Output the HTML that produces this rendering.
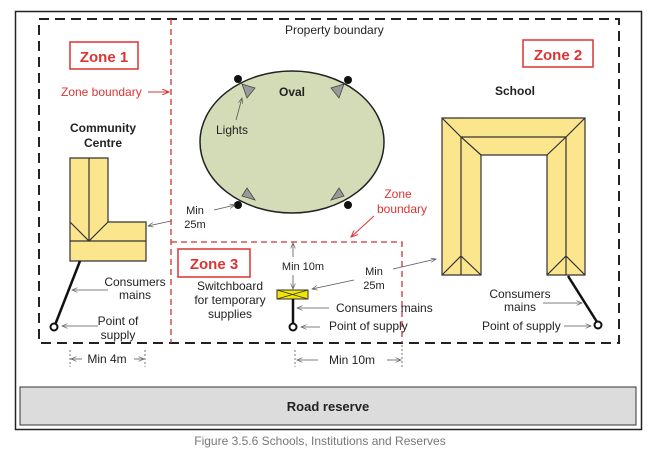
<!DOCTYPE html>
<html><head><style>body{margin:0;background:#fff}svg{display:block}text{font-family:"Liberation Sans",sans-serif}</style></head><body>
<svg width="669" height="460" viewBox="0 0 669 460" xmlns="http://www.w3.org/2000/svg">
<defs>
<marker id="a" markerWidth="8" markerHeight="6" refX="7" refY="3" orient="auto"><path d="M0,0 L7,3 L0,6" fill="none" stroke="#555" stroke-width="0.8"/></marker>
<marker id="r" markerWidth="8" markerHeight="6" refX="7" refY="3" orient="auto"><path d="M0,0 L7,3 L0,6" fill="none" stroke="#d33" stroke-width="1"/></marker>
</defs>
<rect x="15.5" y="11.5" width="626" height="418" fill="#fff" stroke="#222" stroke-width="1.5"/>
<rect x="39" y="19" width="580" height="324" fill="none" stroke="#222" stroke-width="2" stroke-dasharray="10,6"/>
<line x1="171" y1="19" x2="171" y2="343" stroke="#c33" stroke-width="1.3" stroke-dasharray="6,4"/>
<path d="M171,242 H402 V343" fill="none" stroke="#c33" stroke-width="1.3" stroke-dasharray="6,4"/>
<text x="285" y="34" font-size="12" fill="#222">Property boundary</text>
<rect x="70" y="42" width="68" height="27" fill="#fff" stroke="#d33" stroke-width="1.5"/>
<text x="104" y="62" font-size="15" font-weight="bold" fill="#d33" text-anchor="middle">Zone 1</text>
<rect x="523" y="40" width="70" height="27" fill="#fff" stroke="#d33" stroke-width="1.5"/>
<text x="558" y="60" font-size="15" font-weight="bold" fill="#d33" text-anchor="middle">Zone 2</text>
<rect x="178" y="249" width="72" height="28" fill="#fff" stroke="#d33" stroke-width="1.5"/>
<text x="214" y="269" font-size="15" font-weight="bold" fill="#d33" text-anchor="middle">Zone 3</text>
<text x="61" y="96" font-size="12" fill="#d33">Zone boundary</text>
<line x1="148" y1="92" x2="169" y2="92" stroke="#d33" marker-end="url(#r)"/>
<text x="398" y="198" font-size="12" fill="#d33" text-anchor="middle">Zone</text>
<text x="402" y="213" font-size="12" fill="#d33" text-anchor="middle">boundary</text>
<line x1="374" y1="216" x2="351" y2="237" stroke="#d33" marker-end="url(#r)"/>
<ellipse cx="292" cy="142" rx="92" ry="71" fill="#d3dcb7" stroke="#222" stroke-width="1.5"/>
<text x="292" y="96" font-size="12" font-weight="bold" fill="#222" text-anchor="middle">Oval</text>
<g fill="#999" stroke="#444" stroke-width="0.8">
<polygon points="242,84 255,88 247,98"/><polygon points="344,84 331,88 339,98"/>
<polygon points="242,196 255,200 247,188"/><polygon points="344,196 331,200 339,188"/></g>
<g fill="#111"><circle cx="238" cy="79" r="4"/><circle cx="348" cy="80" r="4"/><circle cx="238" cy="205" r="4"/><circle cx="348" cy="205" r="4"/></g>
<text x="232" y="134" font-size="12" fill="#222" text-anchor="middle">Lights</text>
<line x1="236" y1="120" x2="242" y2="98" stroke="#555" stroke-width="0.8" marker-end="url(#a)"/>
<text x="195" y="214" font-size="11" fill="#222" text-anchor="middle">Min</text>
<text x="195" y="228" font-size="11" fill="#222" text-anchor="middle">25m</text>
<line x1="214" y1="210" x2="235" y2="205" stroke="#555" stroke-width="0.8" marker-end="url(#a)"/>
<line x1="171" y1="221" x2="148" y2="226" stroke="#555" stroke-width="0.8" marker-end="url(#a)"/>
<text x="103" y="132" font-size="12" font-weight="bold" fill="#222" text-anchor="middle">Community</text>
<text x="103" y="147" font-size="12" font-weight="bold" fill="#222" text-anchor="middle">Centre</text>
<path d="M70,158 H108 V222 H146 V261 H70 Z" fill="#fbe58d" stroke="#333" stroke-width="1.2"/>
<path d="M89,158 V241 M70,222 L89,241 L108,222 M70,241 H146" fill="none" stroke="#333" stroke-width="1.2"/>
<line x1="80" y1="261" x2="55" y2="325" stroke="#111" stroke-width="2.5"/>
<circle cx="54" cy="327" r="3.5" fill="#fff" stroke="#111" stroke-width="2"/>
<text x="135" y="286" font-size="12" fill="#222" text-anchor="middle">Consumers</text>
<text x="135" y="299" font-size="12" fill="#222" text-anchor="middle">mains</text>
<line x1="108" y1="290" x2="72" y2="290" stroke="#555" stroke-width="0.8" marker-end="url(#a)"/>
<text x="118" y="325" font-size="12" fill="#222" text-anchor="middle">Point of</text>
<text x="118" y="339" font-size="12" fill="#222" text-anchor="middle">supply</text>
<line x1="98" y1="326" x2="62" y2="326" stroke="#555" stroke-width="0.8" marker-end="url(#a)"/>
<line x1="70" y1="350" x2="70" y2="367" stroke="#777" stroke-dasharray="2,2"/>
<line x1="145" y1="350" x2="145" y2="367" stroke="#777" stroke-dasharray="2,2"/>
<text x="107" y="363" font-size="12" fill="#222" text-anchor="middle">Min 4m</text>
<line x1="82" y1="359" x2="71" y2="359" stroke="#555" stroke-width="0.8" marker-end="url(#a)"/>
<line x1="134" y1="359" x2="144" y2="359" stroke="#555" stroke-width="0.8" marker-end="url(#a)"/>
<text x="230" y="290" font-size="12" fill="#222" text-anchor="middle">Switchboard</text>
<text x="230" y="304" font-size="12" fill="#222" text-anchor="middle">for temporary</text>
<text x="230" y="318" font-size="12" fill="#222" text-anchor="middle">supplies</text>
<text x="303" y="270" font-size="11" fill="#222" text-anchor="middle">Min 10m</text>
<line x1="293" y1="257" x2="293" y2="243" stroke="#555" stroke-width="0.8" marker-end="url(#a)"/>
<line x1="293" y1="275" x2="293" y2="289" stroke="#555" stroke-width="0.8" marker-end="url(#a)"/>
<rect x="277" y="290" width="31" height="9" fill="#f2e600" stroke="#333" stroke-width="1"/>
<path d="M277,290 L308,299 M308,290 L277,299" stroke="#333" stroke-width="0.8"/>
<line x1="293" y1="299" x2="293" y2="324" stroke="#111" stroke-width="2.5"/>
<circle cx="293" cy="327" r="3.5" fill="#fff" stroke="#111" stroke-width="2"/>
<text x="374" y="275" font-size="11" fill="#222" text-anchor="middle">Min</text>
<text x="374" y="289" font-size="11" fill="#222" text-anchor="middle">25m</text>
<line x1="354" y1="280" x2="312" y2="289" stroke="#555" stroke-width="0.8" marker-end="url(#a)"/>
<line x1="393" y1="269" x2="436" y2="259" stroke="#555" stroke-width="0.8" marker-end="url(#a)"/>
<text x="336" y="312" font-size="12" fill="#222">Consumers mains</text>
<line x1="329" y1="308" x2="297" y2="308" stroke="#555" stroke-width="0.8" marker-end="url(#a)"/>
<text x="329" y="330" font-size="12" fill="#222">Point of supply</text>
<line x1="320" y1="327" x2="301" y2="327" stroke="#555" stroke-width="0.8" marker-end="url(#a)"/>
<line x1="295" y1="350" x2="295" y2="367" stroke="#777" stroke-dasharray="2,2"/>
<line x1="402" y1="345" x2="402" y2="367" stroke="#777" stroke-dasharray="2,2"/>
<text x="352" y="364" font-size="12" fill="#222" text-anchor="middle">Min 10m</text>
<line x1="318" y1="360" x2="297" y2="360" stroke="#555" stroke-width="0.8" marker-end="url(#a)"/>
<line x1="387" y1="360" x2="401" y2="360" stroke="#555" stroke-width="0.8" marker-end="url(#a)"/>
<text x="515" y="95" font-size="12" font-weight="bold" fill="#222" text-anchor="middle">School</text>
<path d="M442,118 H585 V275 H547 V155 H481 V275 H442 Z" fill="#fbe58d" stroke="#333" stroke-width="1.2"/>
<path d="M442,118 L461,137 L481,155 M585,118 L566,137 L547,155 M461,137 H566 M461,137 V275 M566,137 V275 M442,275 L461,256 L481,275 M547,275 L566,256 L585,275" fill="none" stroke="#333" stroke-width="1.2"/>
<line x1="568" y1="276" x2="597" y2="322" stroke="#111" stroke-width="2.5"/>
<circle cx="598" cy="325" r="3.5" fill="#fff" stroke="#111" stroke-width="2"/>
<text x="520" y="298" font-size="12" fill="#222" text-anchor="middle">Consumers</text>
<text x="520" y="311" font-size="12" fill="#222" text-anchor="middle">mains</text>
<line x1="543" y1="303" x2="582" y2="303" stroke="#555" stroke-width="0.8" marker-end="url(#a)"/>
<text x="482" y="330" font-size="12" fill="#222">Point of supply</text>
<line x1="564" y1="326" x2="591" y2="326" stroke="#555" stroke-width="0.8" marker-end="url(#a)"/>
<rect x="20" y="387" width="616" height="38" fill="#dcdcdc" stroke="#333" stroke-width="1"/>
<text x="328" y="411" font-size="13" font-weight="bold" fill="#222" text-anchor="middle">Road reserve</text>
<text x="320" y="445" font-size="12" fill="#777" text-anchor="middle">Figure 3.5.6 Schools, Institutions and Reserves</text>
</svg>
</body></html>
